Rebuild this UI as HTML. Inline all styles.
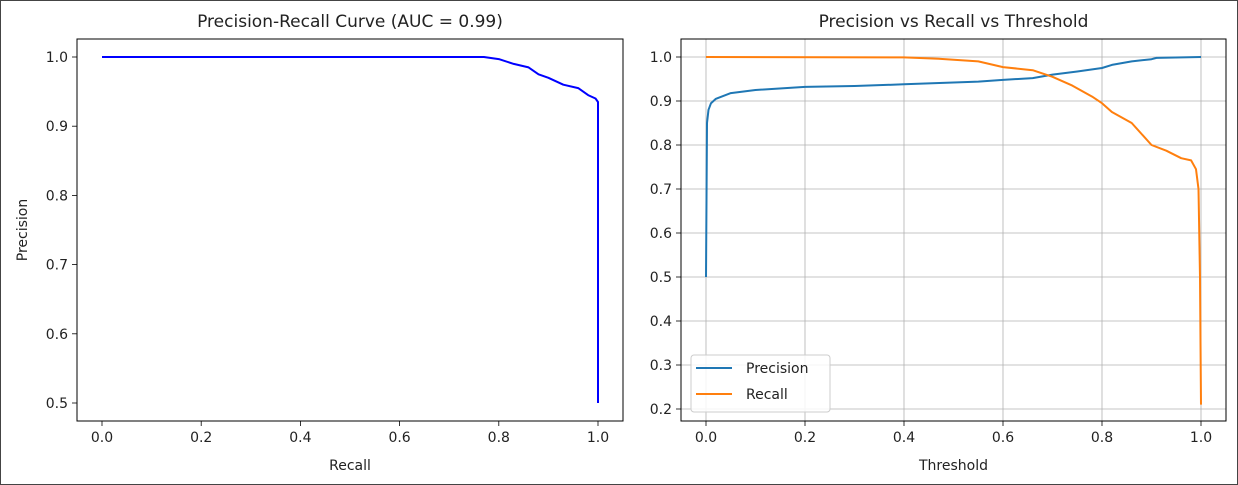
<!DOCTYPE html>
<html><head><meta charset="utf-8"><style>
body{margin:0;background:#fff;}
svg{display:block;font-family:"DejaVu Sans","Liberation Sans",sans-serif;}
</style></head><body>
<svg id="chart" width="1238" height="485" viewBox="0 0 1238 485">
<rect x="0.5" y="0.5" width="1237" height="484" fill="#fff" stroke="#444"/>
<g id="left"></g>
<g id="right"></g>
</svg>
<script>
const prRecall=[0,0.55,0.77,0.8,0.83,0.86,0.88,0.9,0.93,0.96,0.98,0.995,1.0,1.0,1.0];
const prPrecision=[1,1,1,0.997,0.99,0.985,0.975,0.97,0.96,0.955,0.945,0.94,0.935,0.78,0.5];
const precThr=[0,0.002,0.005,0.01,0.02,0.05,0.1,0.2,0.3,0.4,0.5,0.55,0.6,0.66,0.7,0.75,0.8,0.82,0.86,0.9,0.91,1.0];
const precVals=[0.5,0.85,0.88,0.895,0.905,0.918,0.925,0.932,0.934,0.938,0.942,0.944,0.948,0.952,0.96,0.967,0.975,0.982,0.99,0.995,0.998,1.0];
const recThr=[0,0.4,0.47,0.55,0.6,0.66,0.7,0.74,0.78,0.8,0.82,0.86,0.88,0.9,0.93,0.96,0.98,0.99,0.995,0.998,1.0];
const recVals=[1,0.999,0.996,0.99,0.977,0.97,0.955,0.935,0.91,0.895,0.875,0.85,0.825,0.8,0.787,0.77,0.765,0.745,0.7,0.5,0.21];
const xTicks=[0,0.2,0.4,0.6,0.8,1.0];
const leftYTicks=[0.5,0.6,0.7,0.8,0.9,1.0];
const rightYTicks=[0.2,0.3,0.4,0.5,0.6,0.7,0.8,0.9,1.0];

const NS="http://www.w3.org/2000/svg";
function mk(parent,tag,attrs,text){const e=document.createElementNS(NS,tag);for(const k in attrs)e.setAttribute(k,attrs[k]);if(text!==undefined)e.textContent=text;parent.appendChild(e);return e;}

function panel(g,box,xs,ys,yTicks,grid,title,xlabel,ylabel){
  const sx=v=>xs[0]+(v-xs[1])*xs[2];
  const sy=v=>ys[0]-(v-ys[1])*ys[2];
  if(grid){
    xTicks.forEach(t=>{const l=mk(g,'line',{x1:sx(t),x2:sx(t),y1:box[1],y2:box[3],stroke:'#b0b0b0','stroke-width':0.8});
      
      });
    yTicks.forEach(t=>{const l=mk(g,'line',{x1:box[0],x2:box[2],y1:sy(t),y2:sy(t),stroke:'#b0b0b0','stroke-width':0.8});
      
      });
  }
  xTicks.forEach(t=>{mk(g,'line',{x1:sx(t),x2:sx(t),y1:box[3],y2:box[3]+5,stroke:'#000','stroke-width':0.8});
    const tx=mk(g,'text',{x:sx(t),y:box[3]+21,'text-anchor':'middle','font-size':14,fill:'#222'},t.toFixed(1));
    
    });
  yTicks.forEach(t=>{mk(g,'line',{x1:box[0]-5,x2:box[0],y1:sy(t),y2:sy(t),stroke:'#000','stroke-width':0.8});
    const tx=mk(g,'text',{x:box[0]-9,y:sy(t)+5,'text-anchor':'end','font-size':14,fill:'#222'},t.toFixed(1));
    
    });
  const tt=mk(g,'text',{x:(box[0]+box[2])/2,y:27,'text-anchor':'middle','font-size':17,fill:'#222'},title);
  
  
  const xl=mk(g,'text',{x:(box[0]+box[2])/2,y:470,'text-anchor':'middle','font-size':14,fill:'#222'},xlabel);
  
  
  if(ylabel){const yl=mk(g,'text',{x:0,y:0,'text-anchor':'middle','font-size':14,fill:'#222',transform:`translate(27,${(box[1]+box[3])/2}) rotate(-90)`},ylabel);
    
    }
  return {sx,sy};
}
function line(g,sc,xsArr,ysArr,color,w,name){
  const d=xsArr.map((v,i)=>(i?'L':'M')+sc.sx(v).toFixed(1)+','+sc.sy(ysArr[i]).toFixed(1)).join('');
  const p=mk(g,'path',{d:d,fill:'none',stroke:color,'stroke-width':w,'stroke-linejoin':'round'});
  
  
}
const L=document.getElementById('left'),R=document.getElementById('right');
const lbox=[77,39,623,421];
const ls=panel(L,lbox,[102,0,496],[57,1,692],leftYTicks,false,'Precision-Recall Curve (AUC = 0.99)','Recall','Precision');
line(L,ls,prRecall,prPrecision,'#0000ff',2,'pr-curve-line');
const lf=mk(L,'rect',{x:lbox[0],y:lbox[1],width:lbox[2]-lbox[0],height:lbox[3]-lbox[1],fill:'none',stroke:'#000','stroke-width':1});



const rbox=[681,39,1226,421];
const rs=panel(R,rbox,[706,0,495],[57,1,440],rightYTicks,true,'Precision vs Recall vs Threshold','Threshold',null);
line(R,rs,precThr,precVals,'#1f77b4',2,'precision-line');
line(R,rs,recThr,recVals,'#ff7f0e',2,'recall-line');
const rf=mk(R,'rect',{x:rbox[0],y:rbox[1],width:rbox[2]-rbox[0],height:rbox[3]-rbox[1],fill:'none',stroke:'#000','stroke-width':1});


const lg=mk(R,'g',{});


mk(lg,'rect',{x:691,y:355,width:139,height:57,rx:3,fill:'#fff','fill-opacity':0.85,stroke:'#ccc'});
[['Precision','#1f77b4',368],['Recall','#ff7f0e',394]].forEach(([n,c,y])=>{
  const e=mk(lg,'g',{});
  
  
  mk(e,'line',{x1:696,x2:732,y1:y,y2:y,stroke:c,'stroke-width':2});
  mk(e,'text',{x:746,y:y+5,'font-size':14,fill:'#222'},n);
});
</script>
</body></html>
